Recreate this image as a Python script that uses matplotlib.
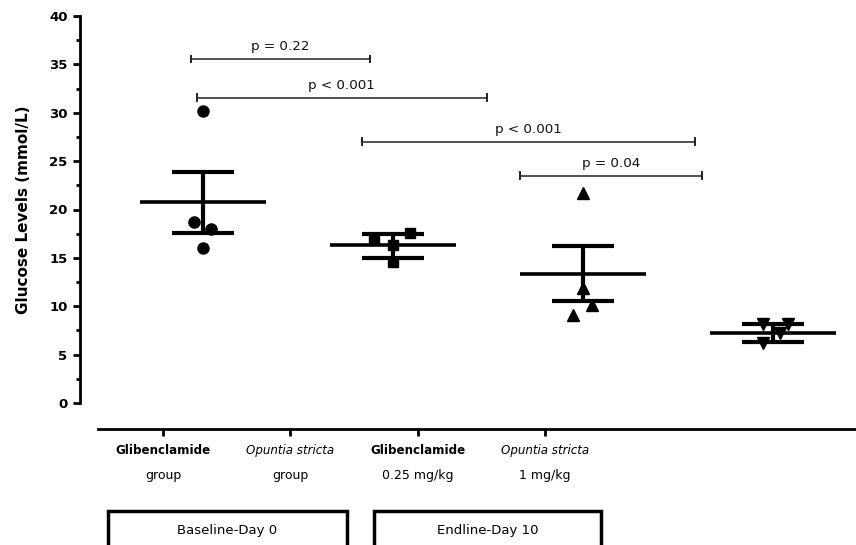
import matplotlib
matplotlib.use("Agg")
import matplotlib.pyplot as plt
from matplotlib.patches import Rectangle
import numpy as np

# ---- data ----
groups = ["Glibenclamide group", "Opuntia stricta group",
          "Glibenclamide 0.25 mg/kg", "Opuntia stricta 1 mg/kg"]
label_line1 = ["Glibenclamide", "Opuntia stricta", "Glibenclamide", "Opuntia stricta"]
label_line2 = ["group", "group", "0.25 mg/kg", "1 mg/kg"]
label_style = ["bold", "italic", "bold", "italic"]

g1_values = [30.2, 18.7, 18.0, 16.05]
g2_values = [16.9, 17.6, 16.3, 14.6]
g3_values = [21.7, 11.85, 10.1, 9.1]
g4_values = [8.2, 8.15, 7.2, 6.2]
g1_offsets = [0.0, -0.045, 0.045, 0.0]
g2_offsets = [-0.10, 0.09, 0.0, 0.0]
g3_offsets = [0.0, 0.0, 0.045, -0.05]
g4_offsets = [-0.055, 0.08, 0.035, -0.055]

means = [20.74, 16.3, 13.3, 7.2]
err_upper = [23.9, 17.45, 16.2, 8.15]
err_lower = [17.6, 14.95, 10.5, 6.35]

# significance brackets: (x_start, x_end, y, label)
brackets = [
    (-0.063, 0.88, 35.56, "p = 0.22"),
    (-0.033, 1.493, 31.56, "p < 0.001"),
    (0.835, 2.589, 27.0, "p < 0.001"),
    (1.668, 2.625, 23.5, "p = 0.04"),
]

periods = ["Baseline-Day 0", "Endline-Day 10"]

# ---- figure ----
W, H = 856, 545
fig = plt.figure(figsize=(W / 100, H / 100), dpi=100)
plt.rcParams['font.family'] = ['DejaVu Sans']

def fx(px):
    return px / W

def fy(py):
    return (H - py) / H

ax = fig.add_axes([fx(80), fy(403), fx(856) - fx(80), fy(16) - fy(403)])
ax.set_ylim(0, 40)
ax.set_xlim(-0.647, 3.437)
for s in ["top", "right", "bottom"]:
    ax.spines[s].set_visible(False)
ax.spines["left"].set_linewidth(2)
ax.set_xticks([])
ax.set_yticks(np.arange(0, 41, 5))
ax.set_yticks(np.arange(2.5, 40, 5), minor=True)
ax.tick_params(axis="y", which="major", length=5, width=2, labelsize=9.5, pad=4)
ax.tick_params(axis="y", which="minor", length=3, width=2)
for lab in ax.get_yticklabels():
    lab.set_fontweight("bold")
ax.set_ylabel("Glucose Levels (mmol/L)", fontsize=11, fontweight="bold")
ax.yaxis.set_label_coords(-0.063, 0.5)

all_vals = [g1_values, g2_values, g3_values, g4_values]
all_offs = [g1_offsets, g2_offsets, g3_offsets, g4_offsets]
markers = ["o", "s", "^", "v"]
msizes = [8, 7.5, 8, 8]
for i, (vals, offs) in enumerate(zip(all_vals, all_offs)):
    xs = [i + o for o in offs]
    ax.plot(xs, vals, linestyle="none", marker=markers[i], markersize=msizes[i],
            color="black", zorder=3)
    ax.hlines(means[i], i - 0.33, i + 0.33, color="black", linewidth=2.6, zorder=4)
    ax.vlines(i, err_lower[i], err_upper[i], color="black", linewidth=3, zorder=4)
    ax.hlines([err_lower[i], err_upper[i]], i - 0.165, i + 0.165, color="black",
              linewidth=3, zorder=4)

for x0, x1, y, lab in brackets:
    ax.plot([x0, x1], [y, y], color="#222222", linewidth=1.1, zorder=2)
    ax.plot([x0, x0], [y - 0.35, y + 0.35], color="#222222", linewidth=1.4)
    ax.plot([x1, x1], [y - 0.35, y + 0.35], color="#222222", linewidth=1.4)
    ax.text((x0 + x1) / 2, y + 0.6, lab, ha="center", va="bottom", fontsize=9.7,
            color="#111111")

# ---- category axis ----
ax2 = fig.add_axes([fx(98), fy(428) - 0.001, fx(856) - fx(98), 0.001])
ax2.set_xlim((98 - 163) / 127.3, (856 - 163) / 127.3)
ax2.set_ylim(0, 1)
for s in ["top", "right", "left"]:
    ax2.spines[s].set_visible(False)
ax2.spines["bottom"].set_linewidth(2)
ax2.set_yticks([])
ax2.set_xticks(range(len(groups)))
ax2.set_xticklabels([])
ax2.tick_params(axis="x", length=5, width=2)
ax2.patch.set_visible(False)
for i in range(len(groups)):
    st = "italic" if label_style[i] == "italic" else "normal"
    wt = "bold" if label_style[i] == "bold" else "normal"
    ax2.annotate(label_line1[i], xy=(i, 0), xycoords=("data", "axes fraction"),
                 xytext=(0, -16), textcoords="offset points", ha="center",
                 va="center", fontsize=8.6, fontweight=wt, fontstyle=st)
    ax2.annotate(label_line2[i], xy=(i, 0), xycoords=("data", "axes fraction"),
                 xytext=(0, -34), textcoords="offset points", ha="center",
                 va="center", fontsize=9)

# ---- period boxes ----
box_left = [108, 374]
box_right = [347, 601]
for j, name in enumerate(periods):
    r = Rectangle((fx(box_left[j]), fy(560)), fx(box_right[j]) - fx(box_left[j]),
                  fy(511) - fy(560), transform=fig.transFigure, fill=False,
                  linewidth=2.5, edgecolor="black")
    fig.add_artist(r)
    fig.text(fx((box_left[j] + box_right[j]) / 2), fy(530.5), name, ha="center",
             va="center", fontsize=9.5)

fig.savefig("out.png", dpi=100)
